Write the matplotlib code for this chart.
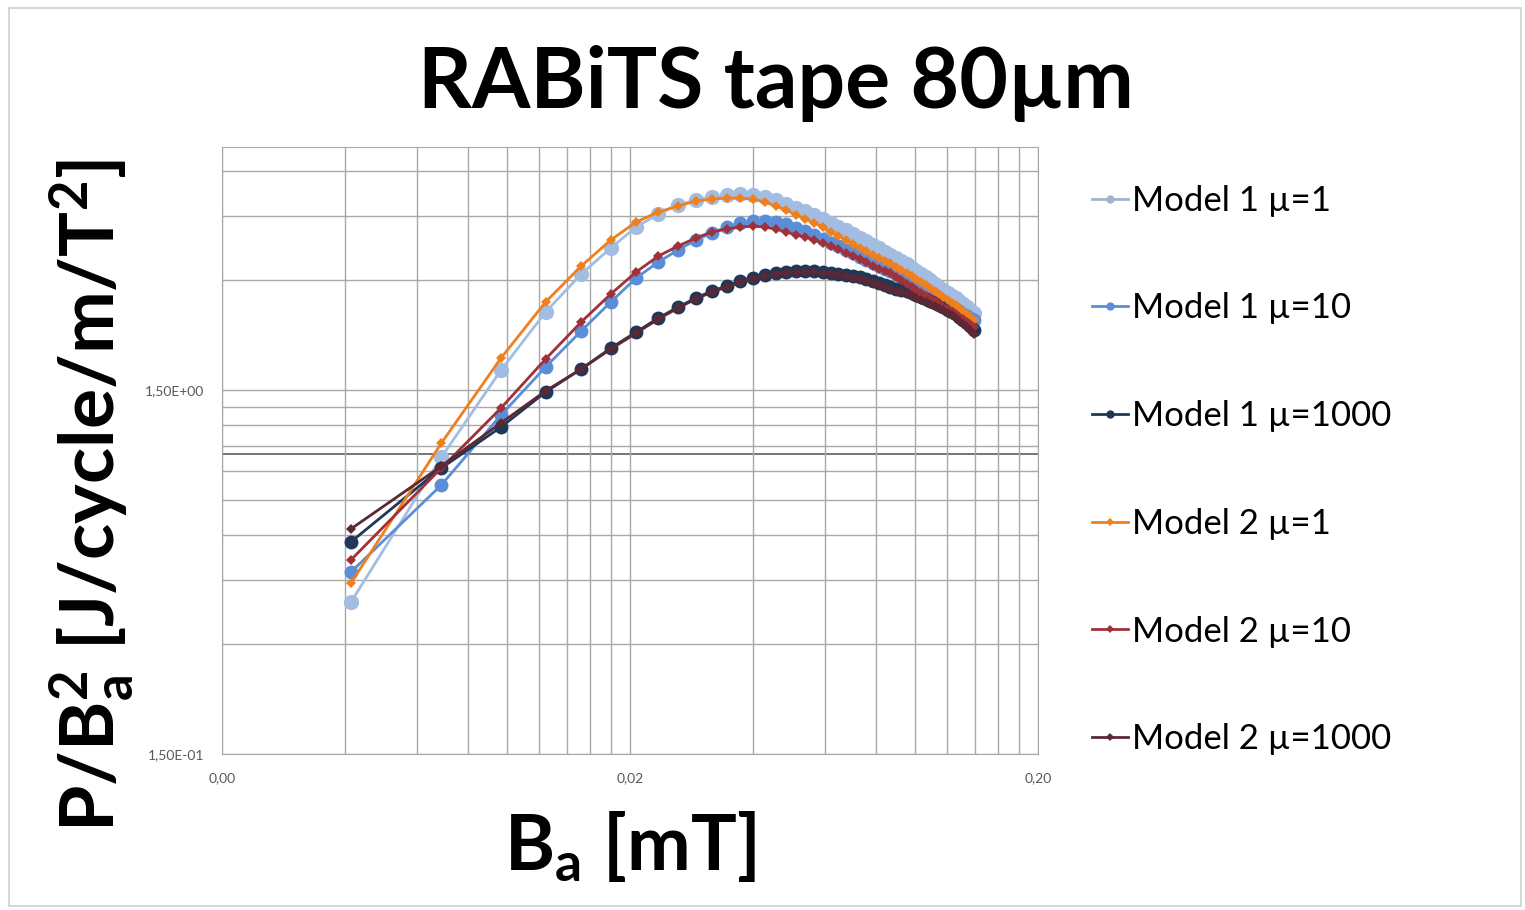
import matplotlib
matplotlib.use("Agg")
from matplotlib import pyplot as plt
from matplotlib.lines import Line2D
from matplotlib.patches import Rectangle
from matplotlib.ticker import FixedLocator, NullFormatter

plt.rcParams['font.family'] = ['Lato', 'DejaVu Sans']
plt.rcParams['mathtext.fontset'] = 'custom'
plt.rcParams['mathtext.rm'] = 'Lato:bold'
plt.rcParams['mathtext.bf'] = 'Lato:bold'

# Ba [T]
b_a = [0.00414, 0.00690, 0.00966, 0.01242, 0.01518, 0.01794, 0.02070, 0.02346, 0.02622, 0.02898,
       0.03174, 0.03450, 0.03726, 0.04002, 0.04278, 0.04554, 0.04830, 0.05106, 0.05382, 0.05658,
       0.05934, 0.06210, 0.06486, 0.06762, 0.07038, 0.07314, 0.07590, 0.07866, 0.08142, 0.08418,
       0.08694, 0.08970, 0.09246, 0.09522, 0.09798, 0.10074, 0.10350, 0.10626, 0.10902, 0.11178,
       0.11454, 0.11730, 0.12006, 0.12282, 0.12558, 0.12834, 0.13110, 0.13386, 0.13662, 0.13938]

m1_mu1 = [0.392, 0.981, 1.702, 2.457, 3.123, 3.683, 4.207, 4.567, 4.836, 4.991,
          5.086, 5.150, 5.184, 5.150, 5.086, 4.991, 4.866, 4.743, 4.654, 4.539,
          4.425, 4.314, 4.207, 4.128, 4.025, 3.923, 3.850, 3.754, 3.683, 3.591,
          3.524, 3.457, 3.392, 3.329, 3.245, 3.184, 3.123, 3.066, 3.008, 2.933,
          2.878, 2.824, 2.771, 2.718, 2.685, 2.634, 2.585, 2.535, 2.488, 2.441]

m1_mu10 = [0.474, 0.823, 1.281, 1.735, 2.178, 2.618, 3.046, 3.371, 3.637, 3.874,
           4.050, 4.207, 4.314, 4.369, 4.369, 4.342, 4.287, 4.180, 4.102, 4.000,
           3.898, 3.801, 3.730, 3.637, 3.568, 3.480, 3.414, 3.349, 3.285, 3.224,
           3.184, 3.123, 3.066, 3.008, 2.951, 2.895, 2.860, 2.806, 2.753, 2.702,
           2.668, 2.618, 2.569, 2.535, 2.504, 2.472, 2.426, 2.394, 2.365, 2.335]

m1_mu1000 = [0.574, 0.916, 1.187, 1.481, 1.713, 1.956, 2.164, 2.365, 2.535, 2.685,
             2.806, 2.895, 2.989, 3.046, 3.104, 3.143, 3.164, 3.184, 3.184, 3.184,
             3.164, 3.143, 3.123, 3.104, 3.084, 3.066, 3.027, 2.989, 2.951, 2.915,
             2.878, 2.842, 2.824, 2.806, 2.771, 2.736, 2.702, 2.668, 2.634, 2.601,
             2.569, 2.535, 2.488, 2.457, 2.426, 2.380, 2.335, 2.291, 2.247, 2.192]

m2_mu1 = [0.442, 1.073, 1.837, 2.618, 3.285, 3.874, 4.342, 4.625, 4.805, 4.960,
          5.022, 5.054, 5.054, 5.022, 4.928, 4.805, 4.684, 4.539, 4.425, 4.314,
          4.207, 4.076, 3.974, 3.874, 3.777, 3.683, 3.614, 3.524, 3.457, 3.392,
          3.349, 3.265, 3.204, 3.143, 3.084, 3.027, 2.970, 2.915, 2.860, 2.806,
          2.753, 2.702, 2.651, 2.601, 2.569, 2.520, 2.472, 2.426, 2.380, 2.335]

m2_mu10 = [0.512, 0.916, 1.339, 1.825, 2.306, 2.753, 3.164, 3.500, 3.730, 3.923,
           4.076, 4.154, 4.207, 4.233, 4.207, 4.154, 4.076, 4.000, 3.948, 3.874,
           3.801, 3.730, 3.660, 3.568, 3.500, 3.436, 3.371, 3.285, 3.224, 3.184,
           3.143, 3.066, 3.008, 2.933, 2.878, 2.824, 2.771, 2.718, 2.685, 2.634,
           2.585, 2.535, 2.504, 2.457, 2.426, 2.380, 2.350, 2.306, 2.277, 2.234]

m2_mu1000 = [0.623, 0.927, 1.218, 1.491, 1.713, 1.943, 2.150, 2.350, 2.520, 2.668,
             2.788, 2.878, 2.970, 3.027, 3.084, 3.123, 3.143, 3.164, 3.164, 3.164,
             3.143, 3.123, 3.104, 3.084, 3.046, 3.027, 2.989, 2.951, 2.915, 2.878,
             2.842, 2.806, 2.788, 2.753, 2.718, 2.685, 2.651, 2.618, 2.585, 2.552,
             2.520, 2.488, 2.441, 2.411, 2.365, 2.320, 2.277, 2.234, 2.192, 2.137]

labels = ['Model 1 \u00b5=1', 'Model 1 \u00b5=10', 'Model 1 \u00b5=1000',
          'Model 2 \u00b5=1', 'Model 2 \u00b5=10', 'Model 2 \u00b5=1000']
colors = ['#a3bde2', '#5b8ed8', '#1f3858', '#f07f1e', '#a0303a', '#5c2833']
legend_colors = ['#a3b3cc', '#5b8ed8', '#1f3858', '#f07f1e', '#a0303a', '#5c2833']


def main():
    fig = plt.figure(figsize=(15.25, 9.1), dpi=100)
    W, H = 1525., 910.
    ax = fig.add_axes([222 / W, 1 - 754 / H, (1038 - 222) / W, (754 - 147) / H])

    series = [m1_mu1, m1_mu10, m1_mu1000, m2_mu1, m2_mu10, m2_mu1000]
    markers = ['o', 'o', 'o', 'D', 'D', 'D']
    msizes = [11, 10, 10, 5, 5, 5]
    for s, c, m, ms, lab in zip(series, colors, markers, msizes, labels):
        ax.plot(b_a, s, color=c, lw=2.0, marker=m, markersize=ms,
                markeredgewidth=0, label=lab, zorder=3)

    ax.set_xscale('log')
    ax.set_yscale('log')
    ax.set_xlim(0.002, 0.2)
    ax.set_ylim(0.15, 6.98)

    ax.set_xticks([0.002, 0.02, 0.2], ['0,00', '0,02', '0,20'])
    ax.set_yticks([0.15, 1.5], ['1,50E-01', '1,50E+00'])
    ax.xaxis.set_minor_locator(FixedLocator([0.002 * k for k in range(2, 10)] +
                                            [0.02 * k for k in range(2, 10)]))
    ax.yaxis.set_minor_locator(FixedLocator([0.15 * k for k in range(2, 10)] +
                                            [1.5 * k for k in range(2, 5)]))
    ax.xaxis.set_minor_formatter(NullFormatter())
    ax.yaxis.set_minor_formatter(NullFormatter())
    ax.grid(which='both', color='#a8a8a8', lw=1.0, zorder=0)
    ax.axhline(1.0, color='#6a6a6a', lw=1.3, zorder=1)
    ax.tick_params(which='both', length=0, labelsize=10, labelcolor='#595959')
    ax.tick_params(axis='x', pad=13)
    ax.tick_params(axis='y', pad=13)
    for sp in ax.spines.values():
        sp.set_color('#a8a8a8')

    fig.text(776 / W, 1 - 108 / H, 'RABiTS tape 80\u00b5m', ha='center', va='baseline',
             fontsize=60.5, fontweight='bold')
    fig.text(92 / W, 1 - 495 / H, r'P/B$\mathrm{_a^2}$ [J/cycle/m/T$\mathrm{^2}$]',
             rotation=90, ha='center', va='center', fontsize=54, fontweight='bold')
    fig.text(630 / W, 1 - 870 / H, r'B$\mathrm{_a}$ [mT]', ha='center', va='baseline',
             fontsize=55, fontweight='bold')

    handles = []
    for c, m, lab in zip(legend_colors, markers, labels):
        handles.append(Line2D([], [], color=c, lw=2.0, marker=m,
                              markersize=6 if m == 'o' else 4, markeredgewidth=0, label=lab))
    fig.legend(handles=handles, loc='center left', bbox_to_anchor=(1092 / W, 1 - 470 / H),
               frameon=False, fontsize=25, handlelength=1.05, handletextpad=0.1,
               labelspacing=2.18, borderpad=0, borderaxespad=0)

    fig.patches.append(Rectangle((9 / W, 4 / H), 1512 / W, 898 / H, transform=fig.transFigure,
                                 fill=False, edgecolor='#cfcfcf', lw=1.2))

    plt.savefig('out.png', dpi=100)


if __name__ == "__main__":
    main()
